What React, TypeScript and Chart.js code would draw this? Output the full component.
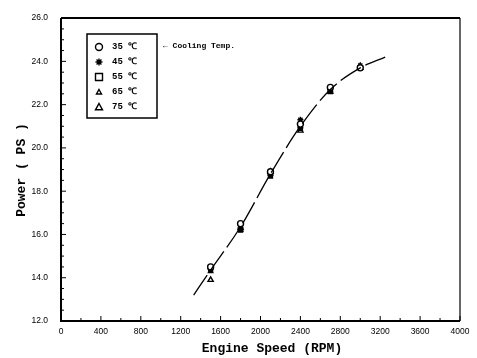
import React, { useEffect, useRef } from "react";
import { Chart, registerables } from "chart.js";

Chart.register(...registerables);

const speeds = [1500, 1800, 2100, 2400, 2700, 3000];
const temp35 = [14.5, 16.5, 18.9, 21.1, 22.8, 23.7];
const temp45 = [14.4, 16.3, 18.8, 21.3, 22.7, 23.8];
const temp55 = [14.4, 16.2, 18.7, 20.9, 22.6, 23.7];
const temp65 = [14.3, 16.2, 18.8, 21.0, 22.7, 23.8];
const temp75 = [13.9, 16.3, 18.9, 20.8, 22.6, 23.7];

const curveRpm = [1330, 1500, 1800, 2100, 2400, 2700, 3000, 3250];
const curvePower = [13.2, 14.35, 16.35, 18.8, 21.0, 22.7, 23.7, 24.2];

const legendLabels = ["35 \u2103", "45 \u2103", "55 \u2103", "65 \u2103", "75 \u2103"];
const legendStyles = ["circle", "star", "rect", "triangle", "triangle"];
const legendNote = "\u2190 Cooling Temp.";

const xTicks = [0, 400, 800, 1200, 1600, 2000, 2400, 2800, 3200, 3600, 4000];
const xTitle = "Engine Speed (RPM)";
const yTitle = "Power ( PS )";

function drawMarker(ctx: CanvasRenderingContext2D, style: string, x: number, y: number, r: number, fill: boolean) {
  ctx.save();
  ctx.strokeStyle = "#000";
  ctx.fillStyle = "#000";
  ctx.lineWidth = 1.4;
  ctx.beginPath();
  if (style === "circle") {
    ctx.arc(x, y, r, 0, Math.PI * 2);
  } else if (style === "rect") {
    ctx.rect(x - r, y - r, 2 * r, 2 * r);
  } else if (style === "triangle") {
    ctx.moveTo(x, y - r);
    ctx.lineTo(x + r, y + r * 0.8);
    ctx.lineTo(x - r, y + r * 0.8);
    ctx.closePath();
  } else if (style === "star") {
    ctx.moveTo(x - r, y);
    ctx.lineTo(x + r, y);
    ctx.moveTo(x, y - r);
    ctx.lineTo(x, y + r);
    ctx.moveTo(x - r * 0.7, y - r * 0.7);
    ctx.lineTo(x + r * 0.7, y + r * 0.7);
    ctx.moveTo(x + r * 0.7, y - r * 0.7);
    ctx.lineTo(x - r * 0.7, y + r * 0.7);
  }
  if (fill && style !== "star") ctx.fill();
  ctx.stroke();
  ctx.restore();
}

const framePlugin = {
  id: "frame",
  afterDraw(chart: any) {
    const { ctx, chartArea: a, scales } = chart;
    const xs = scales.x;
    const ys = scales.y;
    ctx.save();
    ctx.strokeStyle = "#000";
    ctx.lineWidth = 2;
    ctx.beginPath();
    ctx.moveTo(a.left, a.top);
    ctx.lineTo(a.right, a.top);
    ctx.moveTo(a.left, a.top);
    ctx.lineTo(a.left, a.bottom);
    ctx.lineTo(a.right, a.bottom);
    ctx.stroke();
    ctx.lineWidth = 1.2;
    ctx.beginPath();
    ctx.moveTo(a.right, a.top);
    ctx.lineTo(a.right, a.bottom);
    ctx.stroke();
    ctx.lineWidth = 1;
    ctx.beginPath();
    for (let v = 0; v <= 4000; v += 200) {
      const px = xs.getPixelForValue(v);
      const len = v % 400 === 0 ? 5 : 3;
      ctx.moveTo(px, a.bottom);
      ctx.lineTo(px, a.bottom - len);
    }
    for (let v = 12; v <= 26.001; v += 0.5) {
      const py = ys.getPixelForValue(v);
      const len = Math.abs(v % 2) < 0.01 ? 5 : 3;
      ctx.moveTo(a.left, py);
      ctx.lineTo(a.left + len, py);
    }
    ctx.stroke();

    const bx = 87, by = 34, bw = 70, bh = 84;
    ctx.lineWidth = 1.5;
    ctx.strokeRect(bx, by, bw, bh);
    ctx.fillStyle = "#000";
    ctx.font = "bold 9px 'Liberation Mono', monospace";
    ctx.textBaseline = "middle";
    ctx.textAlign = "left";
    for (let i = 0; i < legendLabels.length; i++) {
      const ry = by + 13 + i * 15;
      const r = i === 3 ? 2.5 : 3.5;
      drawMarker(ctx, legendStyles[i], bx + 12, ry, r, false);
      ctx.fillText(legendLabels[i], bx + 25, ry);
    }
    ctx.font = "bold 8px 'Liberation Mono', monospace";
    ctx.fillText(legendNote, 163, 46);

    ctx.font = "bold 13px 'Liberation Mono', 'Courier New', monospace";
    ctx.textAlign = "center";
    ctx.textBaseline = "middle";
    ctx.fillText(xTitle, 272, 349);
    ctx.save();
    ctx.translate(22, 170);
    ctx.rotate(-Math.PI / 2);
    ctx.fillText(yTitle, 0, 0);
    ctx.restore();
    ctx.restore();
  },
};

export default function App() {
  const ref = useRef<HTMLCanvasElement>(null);
  useEffect(() => {
    if (!ref.current) return;
    const mk = (label: string, vals: number[], style: any, r: number, fill: boolean) => ({
      type: "scatter" as const,
      label,
      data: speeds.map((s, i) => ({ x: s, y: vals[i] })),
      pointStyle: style,
      pointRadius: r,
      borderColor: "#000",
      backgroundColor: fill ? "#000" : "#fff",
      pointBorderWidth: 1.4,
      showLine: false,
    });
    const chart = new Chart(ref.current, {
      type: "scatter",
      data: {
        datasets: [
          {
            type: "line" as const,
            label: "curve",
            data: curveRpm.map((s, i) => ({ x: s, y: curvePower[i] })),
            borderColor: "#000",
            borderWidth: 1.3,
            borderDash: [24, 5],
            pointRadius: 0,
            fill: false,
            cubicInterpolationMode: "monotone",
          } as any,
          mk("35", temp35, "circle", 3, false),
          mk("45", temp45, "star", 3, false),
          mk("55", temp55, "rect", 2.8, true),
          mk("65", temp65, "triangle", 2.5, true),
          mk("75", temp75, "triangle", 3, false),
        ],
      },
      options: {
        animation: false,
        responsive: false,
        maintainAspectRatio: false,
        layout: { padding: { top: 10, right: 17, left: 0, bottom: 0 } },
        plugins: { legend: { display: false }, tooltip: { enabled: false } },
        scales: {
          x: {
            type: "linear",
            min: 0,
            max: 4000,
            afterBuildTicks: (s: any) => {
              s.ticks = xTicks.map((v) => ({ value: v }));
            },
            afterFit: (s: any) => {
              s.height = 37;
            },
            grid: { display: false, drawTicks: false },
            border: { display: false },
            ticks: {
              color: "#000",
              padding: 6,
              maxRotation: 0,
              autoSkip: false,
              font: { size: 8.5, family: "'Liberation Sans', sans-serif" },
              callback: (v: any) => String(v),
            },
          },
          y: {
            type: "linear",
            min: 12,
            max: 26,
            afterFit: (s: any) => {
              s.width = 61;
            },
            grid: { display: false, drawTicks: false },
            border: { display: false },
            ticks: {
              stepSize: 2,
              color: "#000",
              padding: 13,
              font: { size: 8.5, family: "'Liberation Sans', sans-serif" },
              callback: (v: any) => Number(v).toFixed(1),
            },
          },
        },
      },
      plugins: [framePlugin],
    } as any);
    return () => chart.destroy();
  }, []);
  return (
    <div style={{ position: "fixed", left: 0, top: 0, width: 477, height: 358, background: "#fff" }}>
      <canvas ref={ref} width={477} height={358} style={{ width: 477, height: 358 }} />
    </div>
  );
}
